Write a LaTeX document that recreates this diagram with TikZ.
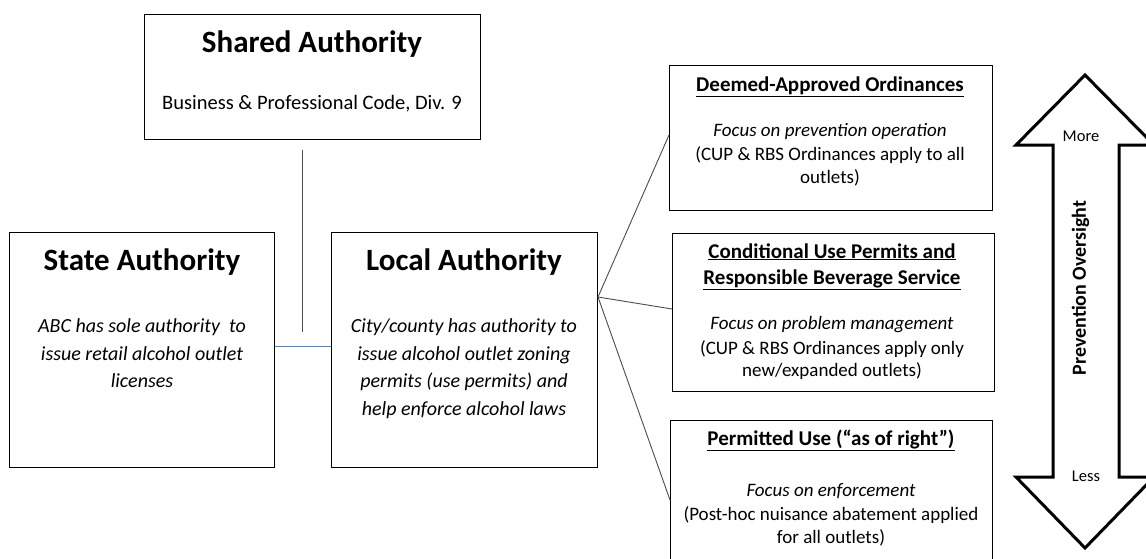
\documentclass[tikz,border=0pt]{standalone}
\usepackage{fontspec}
\setmainfont{Carlito}
\usetikzlibrary{calc}
\tikzset{
  boxs/.style={draw=black, line width=1pt, anchor=north west, inner sep=0pt},
  ttl/.style={font=\fontsize{31}{34}\selectfont\bfseries, inner sep=0pt, anchor=base},
  bodyi/.style={font=\fontsize{20}{28}\selectfont\itshape, inner sep=0pt, anchor=base},
  bodyr/.style={font=\fontsize{20.5}{24}\selectfont, inner sep=0pt, anchor=base},
  hd/.style={font=\fontsize{21}{26}\selectfont\bfseries, inner sep=0pt, anchor=base},
  rti/.style={font=\fontsize{19}{24}\selectfont\itshape, inner sep=0pt, anchor=base},
  rtr/.style={font=\fontsize{19}{23}\selectfont, inner sep=0pt, anchor=base},
  conn/.style={draw=black!70, line width=0.9pt},
  arr/.style={draw=black, line width=3pt, line join=miter},
  small/.style={font=\fontsize{16.5}{18}\selectfont, inner sep=0pt, anchor=base},
}
\newcommand{\ulx}[1]{\underline{#1}}
\begin{document}
\begin{tikzpicture}[x=1pt,y=-1pt]
\useasboundingbox (0,0) rectangle (1146,558);
\clip (0,0) rectangle (1146,558);
\fill[white] (0,0) rectangle (1146,558);
% boxes
\node[boxs, minimum width=336pt, minimum height=125pt] (shared) at (144,14) {};
\node[boxs, minimum width=265pt, minimum height=235pt] (state) at (9,232) {};
\node[boxs, minimum width=266pt, minimum height=235pt] (local) at (331,232) {};
\node[boxs, minimum width=323pt, minimum height=145pt] (deemed) at (669,65) {};
\node[boxs, minimum width=322pt, minimum height=158pt] (cup) at (672,233) {};
\node[boxs, minimum width=322pt, minimum height=150pt] (perm) at (670,420) {};
% texts: shared
\node[ttl] (sharedT) at (312,52) {Shared Authority};
\node[bodyr] (sharedB) at (312,109) {Business \& Professional Code, Div. 9};
% state
\node[ttl] (stateT) at (142,270) {State Authority};
\node[bodyi] (stateB1) at (142,332) {ABC has sole authority\ \ to};
\node[bodyi] (stateB2) at (142,360) {issue retail alcohol outlet};
\node[bodyi] (stateB3) at (142,387) {licenses};
% local
\node[ttl] (localT) at (464,270) {Local Authority};
\node[bodyi] (localB1) at (464,332) {City/county has authority to};
\node[bodyi] (localB2) at (464,360) {issue alcohol outlet zoning};
\node[bodyi] (localB3) at (464,387) {permits (use permits) and};
\node[bodyi] (localB4) at (464,415) {help enforce alcohol laws};
% deemed
\node[hd] (deemedH) at (830,91) {\ulx{Deemed-Approved Ordinances}};
\node[rti] (deemedI) at (830,136) {Focus on prevention operation};
\node[rtr] (deemedB1) at (830,160.5) {(CUP \& RBS Ordinances apply to all};
\node[rtr] (deemedB2) at (830,183) {outlets)};
% cup
\node[hd] (cupH1) at (832,258) {\ulx{Conditional Use Permits and}};
\node[hd] (cupH2) at (832,284) {\ulx{Responsible Beverage Service}};
\node[rti] (cupI) at (832,329.5) {Focus on problem management};
\node[rtr] (cupB1) at (832,354) {(CUP \& RBS Ordinances apply only};
\node[rtr] (cupB2) at (832,376.5) {new/expanded outlets)};
% permitted
\node[hd] (permH) at (831,445) {\ulx{Permitted Use (“as of right”)}};
\node[rti] (permI) at (831,496.5) {Focus on enforcement};
\node[rtr] (permB1) at (831,520) {(Post-hoc nuisance abatement applied};
\node[rtr] (permB2) at (831,543.5) {for all outlets)};
% connectors
\coordinate (vtop) at (302,150);
\coordinate (vbot) at (302,332);
\draw[conn] (vtop) -- (vbot);
\coordinate (hl) at (state.east |- 0,346);
\coordinate (hr) at (local.west |- 0,346);
\draw[draw={rgb,255:red,91;green,127;blue,166}, line width=0.9pt] (hl) -- (hr);
\coordinate (fan) at (598,297);
\draw[conn] (fan) -- (deemed.west |- 0,135);
\draw[conn] (fan) -- (cup.west |- 0,309);
\draw[conn] (fan) -- (perm.west |- 0,500);
% double arrow
\draw[arr] (1085,75) coordinate (tipT) -- (1154,145) -- (1119,145) -- (1119,477) -- (1154,477) -- (1085,548) coordinate (tipB) -- (1016,477) -- (1053,477) -- (1053,145) -- (1016,145) -- cycle;
\node[small] (more) at (1081,141) {More};
\node[small] (less) at (1086,481.5) {Less};
\node[font=\fontsize{20}{22}\selectfont\bfseries, rotate=90, inner sep=0pt] (po) at (1080.5,288) {Prevention Oversight};
\end{tikzpicture}
\end{document}
